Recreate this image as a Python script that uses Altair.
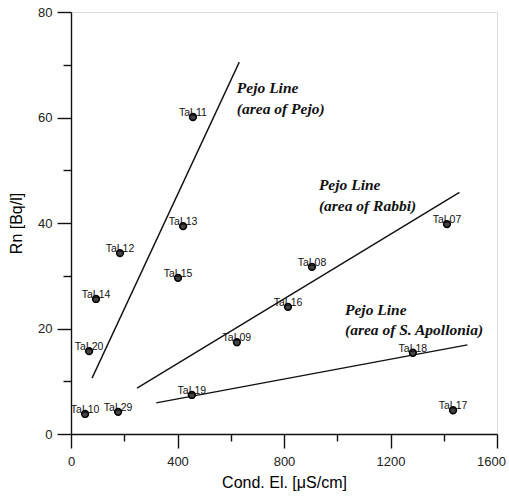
import altair as alt
import pandas as pd

# sample points
labels = ["TaL11", "TaL13", "TaL12", "TaL15", "TaL14", "TaL20", "TaL09", "TaL19",
          "TaL10", "TaL29", "TaL08", "TaL16", "TaL18", "TaL17", "TaL07"]
cond = [458, 421, 184, 402, 94, 68, 623, 454, 53, 177, 905, 815, 1284, 1435, 1412]
rn = [60.1, 39.4, 34.3, 29.6, 25.6, 15.7, 17.4, 7.4, 3.8, 4.2, 31.7, 24.1, 15.4, 4.5, 39.8]

# Pejo lines (start / end)
line_names = ["Pejo", "Rabbi", "Apollonia"]
line_x1 = [79, 248, 320]
line_y1 = [10.6, 8.7, 5.9]
line_x2 = [632, 1459, 1489]
line_y2 = [70.5, 45.8, 16.9]

# annotations
ann_text = ["Pejo Line", "(area of Pejo)", "Pejo Line", "(area of Rabbi)",
            "Pejo Line", "(area of S. Apollonia)"]
ann_x = [623, 623, 931, 931, 1029, 1029]
ann_y = [65.6, 61.6, 47.2, 43.2, 23.5, 19.7]

pts = pd.DataFrame({"label": labels, "x": cond, "y": rn})
lines = pd.DataFrame({"name": line_names, "x": line_x1, "y": line_y1,
                      "x2": line_x2, "y2": line_y2})
ann = pd.DataFrame({"text": ann_text, "x": ann_x, "y": ann_y})

xscale = alt.Scale(domain=[0, 1600], nice=False, zero=False)
yscale = alt.Scale(domain=[0, 80], nice=False, zero=False)

xaxis = alt.Axis(
    title="Cond. El. [μS/cm]",
    values=list(range(0, 1601, 200)),
    format="d",
    labelExpr="datum.value % 400 === 0 ? datum.label : ''",
    tickSize={"condition": {"test": "datum.value % 400 === 0", "value": 14}, "value": 7},
    labelOffset={"condition": {"test": "datum.value === 1600", "value": -6}, "value": 0},
    grid=False, labelFont="Liberation Sans", labelFontSize=13, labelColor="#222",
    titleFont="Liberation Sans", titleFontSize=16, titleFontWeight="normal", titleColor="#000",
    domainColor="#111", tickColor="#111", domainWidth=1.4, tickWidth=1.4,
    labelPadding=7, titlePadding=6, labelFlush=False, labelOverlap=False,
)
yaxis = alt.Axis(
    title="Rn [Bq/l]",
    values=list(range(0, 81, 10)),
    format="d",
    labelExpr="datum.value % 20 === 0 ? datum.label : ''",
    tickSize={"condition": {"test": "datum.value % 20 === 0", "value": 14}, "value": 8},
    grid=False, labelFont="Liberation Sans", labelFontSize=13, labelColor="#222",
    titleFont="Liberation Sans", titleFontSize=16, titleFontWeight="normal", titleColor="#000",
    domainColor="#111", tickColor="#111", domainWidth=1.4, tickWidth=1.4,
    labelPadding=5, titlePadding=13, labelFlush=False, labelOverlap=False,
)

base_pts = alt.Chart(pts)

points = base_pts.mark_point(filled=True, size=45, color="#444", stroke="#000",
                             strokeWidth=1.6, opacity=1).encode(
    x=alt.X("x:Q", scale=xscale, axis=xaxis),
    y=alt.Y("y:Q", scale=yscale, axis=yaxis),
)

point_labels = base_pts.mark_text(font="Liberation Sans", fontSize=10.5, color="#111",
                                  align="center", baseline="middle", dy=-4).encode(
    x="x:Q", y="y:Q", text="label:N"
)

rules = alt.Chart(lines).mark_rule(color="#111", strokeWidth=1.4).encode(
    x="x:Q", y="y:Q", x2="x2:Q", y2="y2:Q"
)

annotations = alt.Chart(ann).mark_text(font="Liberation Serif", fontSize=15.5,
                                       fontStyle="italic", fontWeight="bold",
                                       color="#111", align="left",
                                       baseline="middle").encode(
    x="x:Q", y="y:Q", text="text:N"
)

chart = alt.layer(rules, points, point_labels, annotations).properties(
    width=426, height=422,
    autosize=alt.AutoSizeParams(type="none"),
    padding={"left": 71, "top": 12, "right": 12, "bottom": 66},
).configure_view(stroke=None).configure(background="white")

chart.save("out.html", embed_options={"renderer": "svg", "actions": False})
